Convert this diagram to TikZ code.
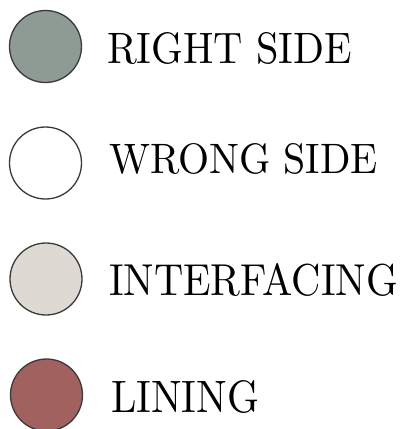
\documentclass[tikz,border=0pt]{standalone}
\usepackage{graphicx}
\definecolor{rightside}{HTML}{8E9B95}
\definecolor{interfacing}{HTML}{DEDAD3}
\definecolor{lining}{HTML}{A1625F}
\definecolor{edge}{HTML}{3A3A3A}
\begin{document}
\begin{tikzpicture}[x=1pt,y=-1pt,
  swatch/.style={circle,draw=edge,line width=1.3pt,minimum size=72pt,inner sep=0pt},
  label/.style={anchor=base west,inner sep=0pt,outer sep=0pt}]
\useasboundingbox (0,0) rectangle (401,429);
\node[swatch,fill=rightside] (c1) at (45.5,46.5) {};
\node[swatch,fill=white] (c2) at (45.5,163) {};
\node[swatch,fill=interfacing] (c3) at (46,279) {};
\node[swatch,fill=lining] (c4) at (46.5,395) {};
\node[label] (t1) at (107,63) {\resizebox{245pt}{31pt}{RIGHT SIDE}};
\node[label] (t2) at (109,173) {\resizebox{269pt}{30pt}{WRONG SIDE}};
\node[label] (t3) at (109,295) {\resizebox{289pt}{32pt}{INTERFACING}};
\node[label] (t4) at (111,412) {\resizebox{148pt}{32pt}{LINING}};
\end{tikzpicture}
\end{document}
